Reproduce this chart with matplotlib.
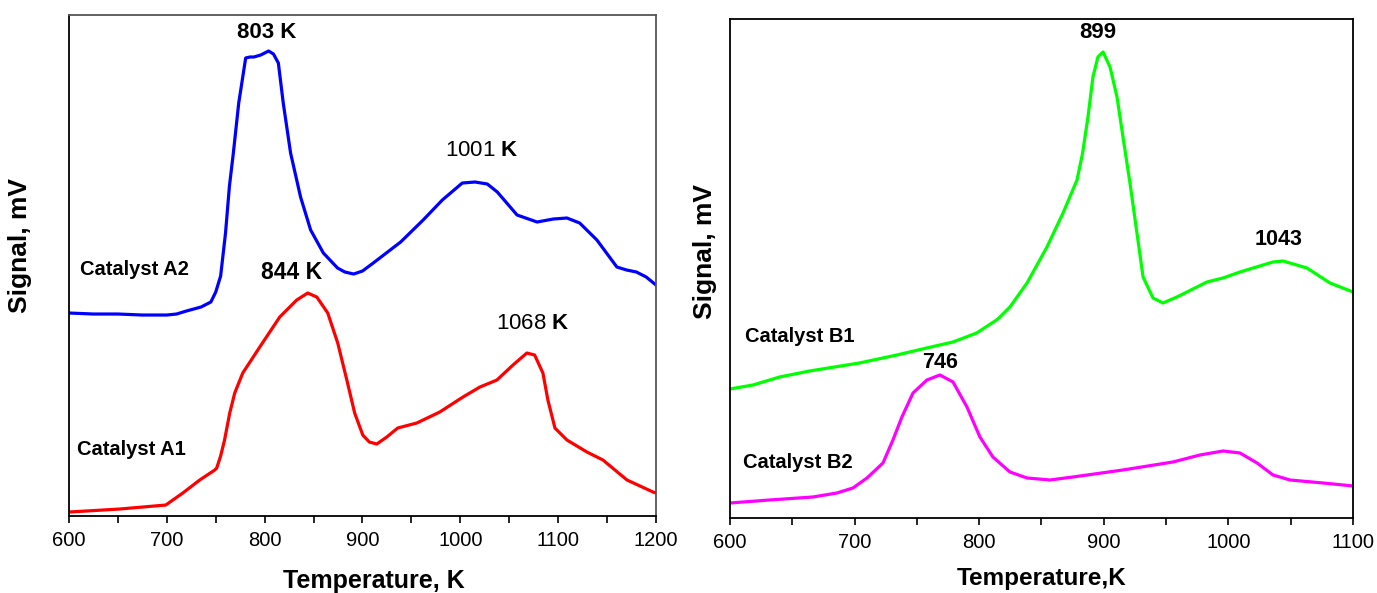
import numpy as np
import matplotlib
matplotlib.use('Agg')
import matplotlib.pyplot as plt

plt.rcParams['font.family'] = ['Liberation Sans', 'DejaVu Sans']
plt.rcParams['mathtext.fontset'] = 'custom'
plt.rcParams['mathtext.rm'] = 'Liberation Sans'
plt.rcParams['mathtext.bf'] = 'Liberation Sans:bold'

# catalyst A2 (blue), arbitrary signal units
t_a2 = [600, 625, 650, 675, 700, 710, 720, 735, 745, 750, 755, 760, 764, 768, 773.5, 777.6,
        780.6, 785, 789, 796, 804, 809, 814, 819, 826.5, 836.7, 847, 860, 874.5, 882, 891,
        900, 911, 939, 962, 981.6, 1002, 1015, 1027.6, 1037.8, 1058, 1078.5, 1095, 1109,
        1122, 1139.6, 1160, 1170, 1180, 1190, 1200]
s_a2 = [203, 202, 202, 201, 201, 202, 205, 209, 214, 224, 240, 283, 330, 363, 413, 439,
        458, 459, 459, 461, 465, 462, 453, 413, 363, 319, 286, 263, 248, 244, 242,
        245, 253, 274, 296, 316, 333, 334, 332, 324, 301, 294, 297, 298,
        293, 276, 249, 246, 244, 239, 231]

# catalyst A1 (red)
t_a1 = [600, 651.8, 698.9, 716.3, 733.6, 749, 751, 755, 759, 764.3, 769.4, 777.6, 795,
        815.4, 832.8, 844, 853.3, 864.5, 874.7, 884, 892, 900.3, 907, 914.6, 924.8, 936,
        955.5, 979, 1002.7, 1020, 1037.4, 1053.8, 1068, 1076, 1084.4, 1089.5, 1096.7,
        1109, 1129.4, 1145.8, 1170.4, 1197, 1200]
s_a1 = [4, 7, 11, 23, 36, 46, 48, 60, 76, 103, 123, 143, 169,
        199, 216, 223, 219, 203, 173, 136, 103, 81, 74, 72, 79, 88,
        93, 104, 119, 129, 136, 151, 163, 161, 143, 116, 88,
        76, 64, 56, 36, 24, 23]

# catalyst B1 (green)
t_b1 = [600, 618.5, 640, 664, 704, 734, 758, 779, 798, 814, 816.7, 824.7, 838.4, 854.4,
        867.3, 878.5, 883, 887.3, 891.3, 895.3, 899.4, 905, 910.6, 915.4, 921, 926.6,
        931.5, 939.5, 947.5, 958.7, 974.8, 982.8, 995.7, 1009.3, 1035.8, 1043.8, 1063,
        1081.5, 1100]
s_b1 = [129, 133, 141, 147, 155, 163, 170, 176, 185, 198, 201, 211, 235, 271,
        305, 338, 365, 401, 441, 461, 466, 451, 421, 381, 335, 285,
        241, 220, 215, 221, 231, 236, 240, 246, 256, 257, 250,
        235, 226]

# catalyst B2 (magenta)
t_b2 = [600, 632, 666.6, 685.9, 698.7, 710, 722.8, 730.8, 738, 746.9, 758.1, 768.5, 779,
        790.2, 800.6, 811, 824.7, 838.4, 856.8, 875.3, 915.4, 955.5, 977.2, 995.7,
        1009.3, 1023, 1035.8, 1049.4, 1075.9, 1100]
s_b2 = [15, 18, 21, 25, 30, 40, 55, 78, 101, 125, 138, 143, 136,
        111, 81, 61, 46, 40, 38, 41, 48, 56, 63, 67,
        65, 55, 43, 38, 35, 32]

fig = plt.figure(figsize=(13.77, 5.93), dpi=100)
ax1 = fig.add_axes([0.0501, 0.1298, 0.4263, 0.8449])
ax2 = fig.add_axes([0.5301, 0.1265, 0.4525, 0.8415])

lw = 2.3
ax1.plot(t_a2, s_a2, color='#0000ff', lw=lw, solid_joinstyle='round')
ax1.plot(t_a1, s_a1, color='#ff0000', lw=lw, solid_joinstyle='round')
ax2.plot(t_b1, s_b1, color='#00ff00', lw=lw, solid_joinstyle='round')
ax2.plot(t_b2, s_b2, color='#ff00ff', lw=lw, solid_joinstyle='round')

ax1.set_xlim(600, 1200)
ax1.set_ylim(0, 501)
ax2.set_xlim(600, 1100)
ax2.set_ylim(0, 499)

for ax in (ax1, ax2):
    ax.set_xticks(np.arange(ax.get_xlim()[0], ax.get_xlim()[1] + 1, 100))
    ax.set_xticks(np.arange(650, ax.get_xlim()[1], 100), minor=True)
    ax.set_yticks([])
    ax.tick_params(axis='x', which='major', direction='out', length=5, width=1.2,
                   labelsize=14.5, pad=6)
    ax.tick_params(axis='x', which='minor', direction='out', length=5, width=1.2)
    for sp in ax.spines.values():
        sp.set_linewidth(1.3)
        sp.set_color('black')
    ax.xaxis.set_major_formatter(matplotlib.ticker.FormatStrFormatter('%d'))

# left panel frame is a bit lighter at the top and right
ax1.spines['top'].set_color('#555555')
ax1.spines['right'].set_color('#555555')

ax1.set_xlabel('Temperature, K', fontsize=18, fontweight='bold')
ax1.xaxis.set_label_coords(0.52, -0.106)
ax1.set_ylabel('Signal, mV', fontsize=19, fontweight='bold')
ax1.yaxis.set_label_coords(-0.063, 0.54)

ax2.set_xlabel('Temperature,K', fontsize=17.5, fontweight='bold')
ax2.xaxis.set_label_coords(0.5, -0.098)
ax2.set_ylabel('Signal, mV', fontsize=19, fontweight='bold')
ax2.yaxis.set_label_coords(-0.021, 0.535)

ax1.text(802, 484, '803 K', fontsize=16, fontweight='bold', ha='center', va='center')
ax1.text(827.7, 244, '844 K', fontsize=16.5, fontweight='bold', ha='center', va='center')
ax1.text(1022, 366, r'1001 $\mathbf{K}$', fontsize=16, ha='center', va='center')
ax1.text(1074, 193, r'1068 $\mathbf{K}$', fontsize=16, ha='center', va='center')
ax1.text(611, 247, 'Catalyst A2', fontsize=14.5, fontweight='bold', ha='left', va='center')
ax1.text(608, 67, 'Catalyst A1', fontsize=14.5, fontweight='bold', ha='left', va='center')

ax2.text(895.3, 485, '899', fontsize=16, fontweight='bold', ha='center', va='center')
ax2.text(1040.6, 278, '1043', fontsize=15.5, fontweight='bold', ha='center', va='center')
ax2.text(768.5, 155, '746', fontsize=15.5, fontweight='bold', ha='center', va='center')
ax2.text(612, 181, 'Catalyst B1', fontsize=14.5, fontweight='bold', ha='left', va='center')
ax2.text(610.4, 55, 'Catalyst B2', fontsize=14.5, fontweight='bold', ha='left', va='center')

fig.savefig('out.png', dpi=100)
